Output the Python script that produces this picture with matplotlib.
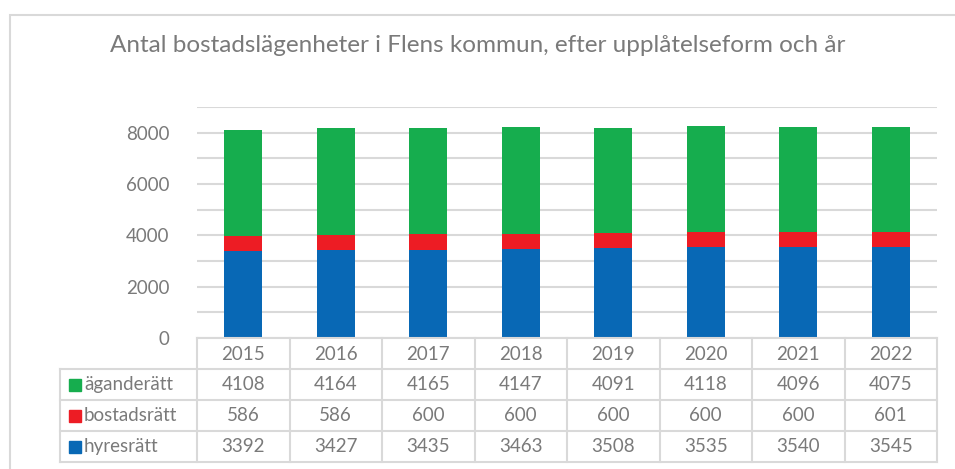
import numpy as np
import matplotlib
matplotlib.use("Agg")
import matplotlib.pyplot as plt
from matplotlib.lines import Line2D
from matplotlib.patches import Rectangle
from matplotlib.transforms import blended_transform_factory

plt.rcParams['font.family'] = ['Lato', 'DejaVu Sans']

years = ['2015', '2016', '2017', '2018', '2019', '2020', '2021', '2022']
hyresratt = [3392, 3427, 3435, 3463, 3508, 3535, 3540, 3545]
bostadsratt = [586, 586, 600, 600, 600, 600, 600, 601]
aganderatt = [4108, 4164, 4165, 4147, 4091, 4118, 4096, 4075]

series = [('äganderätt', aganderatt, '#16AD4E'),
          ('bostadsrätt', bostadsratt, '#ED1C24'),
          ('hyresrätt', hyresratt, '#0868B5')]

W, H = 955, 469
fig = plt.figure(figsize=(W / 100, H / 100), dpi=100)
txt = '#7A7A7A'
grid = '#D9D9D9'

def fx(p):
    return p / W

def fy(p):
    return 1 - p / H

ax = fig.add_axes([fx(197), fy(338), fx(937) - fx(197), fy(107) - fy(338)])
x = np.arange(len(years))
h = np.array(hyresratt)
b = np.array(bostadsratt)
a = np.array(aganderatt)
ax.bar(x, h, width=0.41, color='#0868B5', zorder=3)
ax.bar(x, b, width=0.41, bottom=h, color='#ED1C24', zorder=3)
ax.bar(x, a, width=0.41, bottom=h + b, color='#16AD4E', zorder=3)
ax.set_xlim(-0.5, len(years) - 0.5)
ax.set_ylim(0, 9000)
ax.set_yticks(range(0, 9001, 1000))
ax.set_yticklabels([str(v) if v % 2000 == 0 else '' for v in range(0, 9001, 1000)])
ax.yaxis.grid(True, color=grid, lw=1.5, zorder=0)
ax.set_xticks([])
for s in ax.spines.values():
    s.set_visible(False)
ax.tick_params(axis='y', length=0, pad=20, labelsize=13.5, labelcolor=txt)

# outer chart border
fig.add_artist(Rectangle((fx(10), fy(480)), fx(1000), fy(15) - fy(480),
                         transform=fig.transFigure, fill=False,
                         edgecolor=grid, lw=1.5))

fig.text(0.5, fy(46), 'Antal bostadslägenheter i Flens kommun, efter upplåtelseform och år',
         ha='center', va='center', fontsize=17.5, color=txt)

# data table
tr = blended_transform_factory(ax.transData, fig.transFigure)
rows_y = [338, 369, 400, 431, 462]
lc = '#D9D9D9'
fig.add_artist(Line2D([fx(197), fx(937)], [fy(338), fy(338)], color=lc, lw=1.5))
for yy in rows_y[1:]:
    fig.add_artist(Line2D([fx(60), fx(937)], [fy(yy), fy(yy)], color=lc, lw=1.5))
fig.add_artist(Line2D([fx(60), fx(60)], [fy(369), fy(462)], color=lc, lw=1.5))
for k in range(len(years) + 1):
    fig.add_artist(Line2D([k - 0.5, k - 0.5], [fy(338), fy(462)], color=lc, lw=1.5,
                          transform=tr))

fs = 13.5
for i, yr in enumerate(years):
    fig.text(i, fy(354), yr, transform=tr, ha='center', va='center', fontsize=fs, color=txt)
for r, (name, vals, col) in enumerate(series):
    yc = (rows_y[r + 1] + rows_y[r + 2]) / 2
    fig.add_artist(Rectangle((fx(69), fy(yc + 6)), fx(12), fy(yc - 6) - fy(yc + 6),
                             transform=fig.transFigure, color=col))
    fig.text(fx(84), fy(yc), name, ha='left', va='center', fontsize=fs, color=txt)
    for i, v in enumerate(vals):
        fig.text(i, fy(yc), str(v), transform=tr, ha='center', va='center',
                 fontsize=fs, color=txt)

fig.savefig('out.png', dpi=100)
